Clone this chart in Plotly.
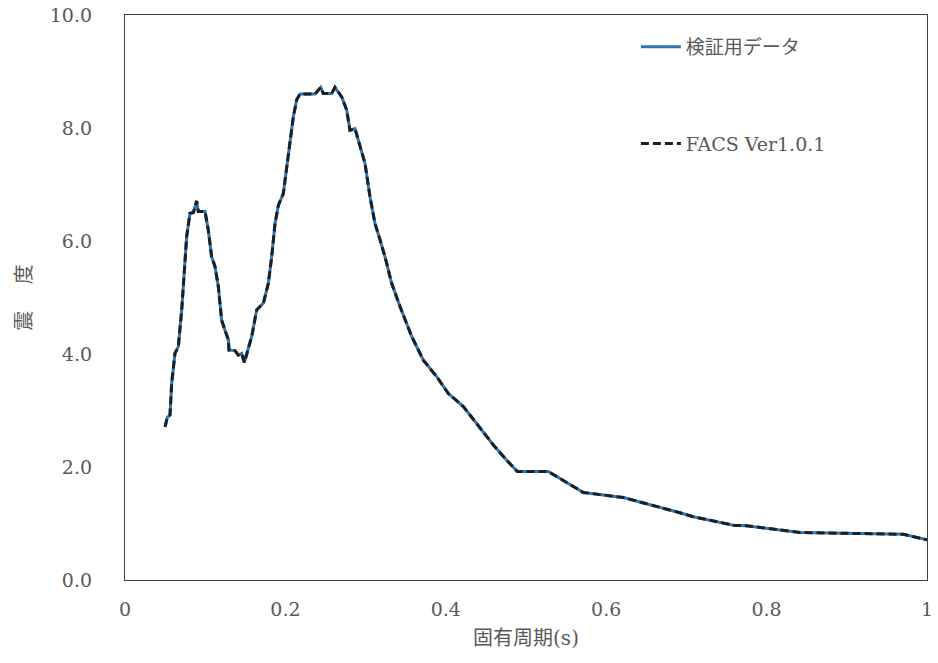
import plotly.graph_objects as go

# Natural period (s)
period = [0.0499, 0.0528, 0.0561, 0.0582, 0.0623, 0.0665, 0.0707, 0.0748, 0.0769, 0.0810,
          0.0852, 0.0893, 0.0914, 0.0998, 0.1039, 0.1080, 0.1122, 0.1164, 0.1205, 0.1247,
          0.1289, 0.1297, 0.1372, 0.1413, 0.1455, 0.1488, 0.1517, 0.1580, 0.1642, 0.1725,
          0.1787, 0.1829, 0.1870, 0.1912, 0.1974, 0.2016, 0.2057, 0.2099, 0.2141, 0.2182,
          0.2369, 0.2440, 0.2473, 0.2577, 0.2618, 0.2702, 0.2764, 0.2805, 0.2868, 0.2930,
          0.2993, 0.3055, 0.3117, 0.3180, 0.3242, 0.3325, 0.3429, 0.3575, 0.3720, 0.3886,
          0.4032, 0.4219, 0.4385, 0.4593, 0.4759, 0.4892, 0.5278, 0.5715, 0.6214, 0.6670,
          0.6920, 0.7086, 0.7585, 0.7750, 0.8416, 0.9705, 1.0000]

# Verification data (seismic intensity)
kensho = [2.71, 2.88, 2.92, 3.48, 4.01, 4.13, 4.78, 5.60, 6.08, 6.49,
          6.50, 6.71, 6.52, 6.52, 6.19, 5.72, 5.55, 5.19, 4.60, 4.42,
          4.25, 4.07, 4.06, 3.98, 4.01, 3.85, 4.01, 4.31, 4.78, 4.90,
          5.25, 5.72, 6.30, 6.63, 6.84, 7.32, 7.73, 8.20, 8.50, 8.60,
          8.60, 8.72, 8.61, 8.61, 8.72, 8.55, 8.32, 7.96, 7.99, 7.67,
          7.37, 6.78, 6.31, 6.02, 5.72, 5.25, 4.84, 4.31, 3.89, 3.60,
          3.30, 3.07, 2.77, 2.39, 2.12, 1.92, 1.92, 1.55, 1.46, 1.29,
          1.19, 1.12, 0.97, 0.96, 0.84, 0.81, 0.71]

# FACS Ver1.0.1 result (coincides with verification data)
facs = list(kensho)

x_tickvals = [0, 0.2, 0.4, 0.6, 0.8, 1]
x_ticktext = ["0", "0.2", "0.4", "0.6", "0.8", "1"]
y_tickvals = [0, 2, 4, 6, 8, 10]
y_ticktext = ["0.0", "2.0", "4.0", "6.0", "8.0", "10.0"]

FONT = "DejaVu Serif, Noto Sans CJK JP, serif"
GRAY = "#595959"

fig = go.Figure()
fig.add_trace(go.Scatter(
    x=period, y=kensho, mode="lines", name="検証用データ",
    legendgroup="a",
    line=dict(color="#2E75B6", width=3)))
fig.add_trace(go.Scatter(
    x=period, y=facs, mode="lines", name="FACS Ver1.0.1",
    legendgroup="b",
    line=dict(color="#1f1f1f", width=3, dash="8px,4px")))

fig.update_layout(
    template="none",
    width=938, height=663,
    margin=dict(l=125, r=11, t=15, b=83, pad=0),
    paper_bgcolor="white", plot_bgcolor="white",
    font=dict(family=FONT, size=19, color=GRAY),
    showlegend=True,
    legend=dict(x=0.637, y=0.977, xanchor="left", yanchor="top",
                bgcolor="rgba(0,0,0,0)", tracegroupgap=69, itemwidth=40,
                font=dict(family=FONT, size=19, color=GRAY)),
    xaxis=dict(range=[0, 1], tickvals=x_tickvals, ticktext=x_ticktext,
               automargin=False,
               showgrid=False, zeroline=False, showline=True, mirror=True,
               linecolor="#404040", linewidth=1.3, ticks="",
               ticklabelstandoff=12,
               title=dict(text="固有周期(s)", standoff=12,
                          font=dict(family=FONT, size=20, color=GRAY))),
    yaxis=dict(range=[0, 10], tickvals=y_tickvals, ticktext=y_ticktext,
               automargin=False,
               showgrid=False, zeroline=False, showline=True, mirror=True,
               linecolor="#404040", linewidth=1.3, ticks="",
               ticklabelstandoff=28,
               title=dict(text="震　 度", standoff=12,
                          font=dict(family=FONT, size=20, color=GRAY))),
)

fig.write_html("out.html")
